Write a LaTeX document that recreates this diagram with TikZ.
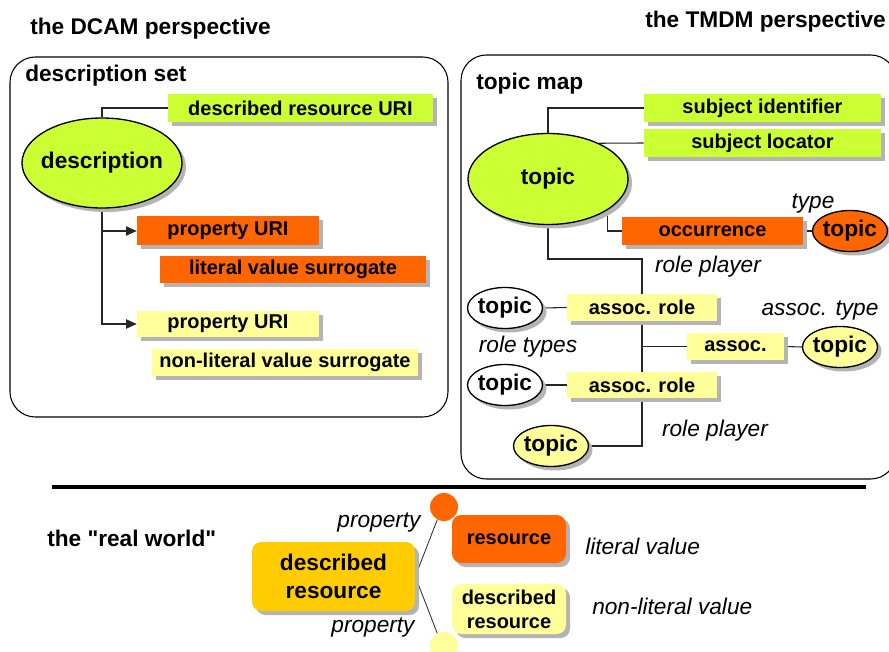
\documentclass[tikz,border=0pt]{standalone}
\usepackage{fontspec}
\setmainfont{Liberation Sans}[Ligatures=TeXOff]
\usetikzlibrary{shadows,arrows.meta,shapes.geometric,backgrounds}
\definecolor{lime}{HTML}{CCFF33}
\definecolor{orng}{HTML}{FF6600}
\definecolor{lyel}{HTML}{FFFF99}
\definecolor{gold}{HTML}{FFCC00}
\definecolor{shdc}{HTML}{B4B4B4}
\begin{document}
\begin{tikzpicture}[x=0.75pt,y=-0.75pt,
  shd/.style={drop shadow={shadow xshift=3pt,shadow yshift=-3pt,fill=shdc,opacity=1}},
  sz/.style 2 args={minimum width=#1*0.75pt,minimum height=#2*0.75pt},
  box/.style={rectangle,inner sep=0pt,font=\bfseries\fontsize{15}{18}\selectfont,shd},
  rbox/.style={rectangle,rounded corners=7pt,inner sep=0pt,align=center,shd},
  ell/.style={ellipse,draw=black,line width=1pt,inner sep=0pt,shd,
    label={[font=\bfseries\fontsize{17}{20}\selectfont,inner sep=0pt]center:#1}},
  lbl/.style={font=\itshape\fontsize{17}{20}\selectfont,inner sep=0pt},
  head/.style={font=\bfseries\fontsize{17}{20}\selectfont,inner sep=0pt,anchor=west},
  conn/.style={draw=black!85,line width=0.8pt},
  frame/.style={draw=black,line width=0.8pt,rounded corners=19pt}]
\begin{pgfonlayer}{background}
\fill[white] (0,0) rectangle (889,652);
\end{pgfonlayer}
\useasboundingbox (0,0) rectangle (889,652);

% headings
\node[head] (dcam) at (30,29) {the DCAM perspective};
\node[head] (tmdm) at (645,22) {the TMDM perspective};

% ---------- left frame ----------
\draw[frame] (10,57) rectangle (448,417);
\node[head] (ds) at (25,76) {description set};
\node[box,fill=lime,sz={265}{28}] (dru) at (300.5,108) {described resource URI};
\node[ell=description,fill=lime,sz={160}{90}] (desc) at (102,163) {};
\node[box,fill=orng,sz={182}{29}] (p1) at (228,231) {property URI};
\node[box,fill=orng,sz={266}{27}] (lvs) at (293,269.5) {literal value surrogate};
\node[box,fill=lyel,sz={182}{26}] (p2) at (228,324) {property URI};
\node[box,fill=lyel,sz={266}{27}] (nlvs) at (285,362.5) {non-literal value surrogate};
\coordinate (j1) at (desc.south |- p1.west);
\begin{pgfonlayer}{background}
\draw[conn] (desc.north) |- (dru.west);
\draw[conn,-{Triangle[length=8pt,width=7pt]}] (desc.south) |- (p2.west);
\draw[conn,-{Triangle[length=8pt,width=7pt]}] (j1) -- (p1.west);
\end{pgfonlayer}

% ---------- right frame ----------
\draw[frame] (461,55) rectangle (896,479);
\node[head] (tm) at (476,84) {topic map};
\node[box,fill=lime,sz={237}{28}] (si) at (762.5,108) {subject identifier};
\node[box,fill=lime,sz={237}{28}] (sl) at (762.5,143) {subject locator};
\node[ell=topic,fill=lime,sz={160}{91}] (topic) at (548,179) {};
\node[box,fill=orng,sz={181}{28}] (occ) at (712.5,231) {occurrence};
\node[ell=topic,fill=orng,sz={75}{41}] (ttype) at (850,231) {};
\node[lbl] (ltype) at (813,204) {type};
\node[lbl] (lrp1) at (708,267) {role player};
\node[ell=topic,fill=white,sz={75}{41}] (t1) at (505,308) {};
\node[box,fill=lyel,sz={150}{27}] (ar1) at (642,307.5) {assoc. role};
\node[lbl] (lrt) at (528,347) {role types};
\node[lbl] (lat) at (820,311) {assoc. type};
\node[box,fill=lyel,sz={97}{27}] (as) at (735.5,346.5) {assoc.};
\node[ell=topic,fill=lyel,sz={75}{41}] (at) at (840,347) {};
\node[ell=topic,fill=white,sz={75}{41}] (t2) at (505,385) {};
\node[box,fill=lyel,sz={150}{26}] (ar2) at (642,385) {assoc. role};
\node[lbl] (lrp2) at (715,431) {role player};
\node[ell=topic,fill=lyel,sz={75}{41}] (tb) at (551,446) {};
\coordinate (r1) at (642,259);
\begin{pgfonlayer}{background}
\draw[conn] (topic.north) |- (si.west);
\draw[conn] (topic.35) -- (sl.west);
\draw[conn] (topic.-28) |- (occ.west);
\draw[conn] (occ.east) -- (ttype.west);
\draw[conn] (topic.south) |- (r1) |- (tb.east);
\draw[conn] (t1.east) -- (ar1.west);
\draw[conn] (t2.east) -- (ar2.west);
\draw[conn] (as.west -| r1) -- (as.west);
\draw[conn] (as.east) -- (at.west);
\end{pgfonlayer}

% separator
\draw[line width=2.4pt] (52,487) -- (866,487);

% ---------- real world ----------
\node[head] (rw) at (47,538) {the "real world"};
\node[rbox,fill=gold,sz={163}{69},font=\bfseries\fontsize{17}{21}\selectfont] (dr) at (333.5,576.5) {described\\resource};
\node[circle,fill=orng,inner sep=0pt,minimum size=28*0.75pt] (c1) at (444,507) {};
\node[circle,fill=lyel,inner sep=0pt,minimum size=28*0.75pt] (c2) at (444,646) {};
\node[lbl] (lp1) at (379,523) {property};
\node[lbl] (lp2) at (373,628) {property};
\node[rbox,fill=orng,sz={114}{48},font=\bfseries\fontsize{15}{18}\selectfont] (res) at (509,539) {resource};
\node[rbox,fill=lyel,sz={114}{50},font=\bfseries\fontsize{15}{18}\selectfont] (dr2) at (509,609) {described\\resource};
\node[lbl,anchor=west] (llv) at (585,546) {literal value};
\node[lbl,anchor=west] (lnlv) at (592,606) {non-literal value};
\begin{pgfonlayer}{background}
\draw[conn,line width=0.6pt] (dr.east) -- (c1.-118);
\draw[conn,line width=0.6pt] (dr.east) -- (c2.118);
\end{pgfonlayer}
\end{tikzpicture}
\end{document}
